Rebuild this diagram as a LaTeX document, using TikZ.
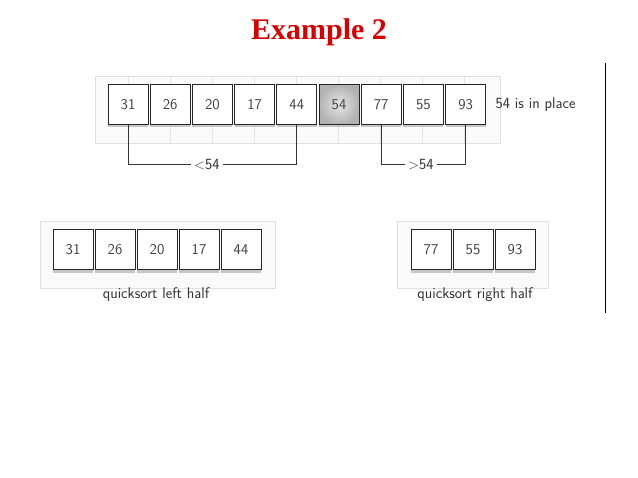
\documentclass[tikz,border=0pt]{standalone}
\usepackage{fontspec}
\newfontfamily\titlefont{Liberation Serif}
\usetikzlibrary{shadows}
\tikzset{
  cell/.style={draw=black!85, line width=1pt, fill=white, minimum width=40pt, minimum height=40pt, inner sep=0pt, font=\sffamily\fontsize{15}{18}\selectfont, text=black!75,
    drop shadow={shadow xshift=0pt, shadow yshift=-3pt, opacity=0.35, fill=black!60}},
  piv/.style={cell, inner color=black!10, outer color=black!30},
  bg/.style={draw=black!12, fill=black!2, line width=0.4pt},
  lab/.style={font=\sffamily\fontsize{15.5}{18}\selectfont, text=black!80},
  br/.style={draw=black!80, line width=1pt}
}
\begin{document}
\begin{tikzpicture}[x=1pt,y=-1pt]
\useasboundingbox[fill=white] (0,0) rectangle (638,478);
\node[font=\titlefont\bfseries\fontsize{30}{34}\selectfont, text=red!85!black] (title) at (319,32) {Example 2};
% backgrounds
\draw[bg] (95,76) rectangle (500,143);
\draw[bg] (40,221) rectangle (275,288);
\draw[bg] (397,221) rectangle (548,288);
\foreach \x in {128,170,212,254,296,338,380,422,464}{\draw[black!10] (\x,76) -- (\x,143);}
% top row
\foreach \v/\i in {31/1,26/2,20/3,17/4,44/5,54/6,77/7,55/8,93/9}{
  \ifnum\i=6
    \node[piv] (t\i) at ({107+21+(\i-1)*42.2},104.5) {\v};
  \else
    \node[cell] (t\i) at ({107+21+(\i-1)*42.2},104.5) {\v};
  \fi
}
\node[lab, anchor=west] (inplace) at (492,104.5) {54 is in place};
% brackets
\coordinate (l1) at (t1.south |- 0,165);
\coordinate (l2) at (t5.south |- 0,165);
\node[lab, fill=white, inner sep=3pt] (lt) at (207,165) {$<$54};
\draw[br] (t1.south) -- (l1) -- (lt.west);
\draw[br] (t5.south) -- (l2) -- (lt.east);
\coordinate (r1) at (t7.south |- 0,165);
\coordinate (r2) at (t9.south |- 0,165);
\node[lab, fill=white, inner sep=3pt] (rt) at (421,165) {$>$54};
\draw[br] (t7.south) -- (r1) -- (rt.west);
\draw[br] (t9.south) -- (r2) -- (rt.east);
% bottom left
\foreach \v/\i in {31/1,26/2,20/3,17/4,44/5}{
  \node[cell] (a\i) at ({52+21+(\i-1)*42},250) {\v};
}
\node[lab] (ll) at (156,295) {quicksort left half};
\foreach \v/\i in {77/1,55/2,93/3}{
  \node[cell] (b\i) at ({410+21+(\i-1)*42},250) {\v};
}
\node[lab] (rl) at (475,295) {quicksort right half};
\coordinate (v1) at (605,63);
\coordinate (v2) at (605,313);
\draw[line width=1pt] (v1) -- (v2);
\end{tikzpicture}
\end{document}
